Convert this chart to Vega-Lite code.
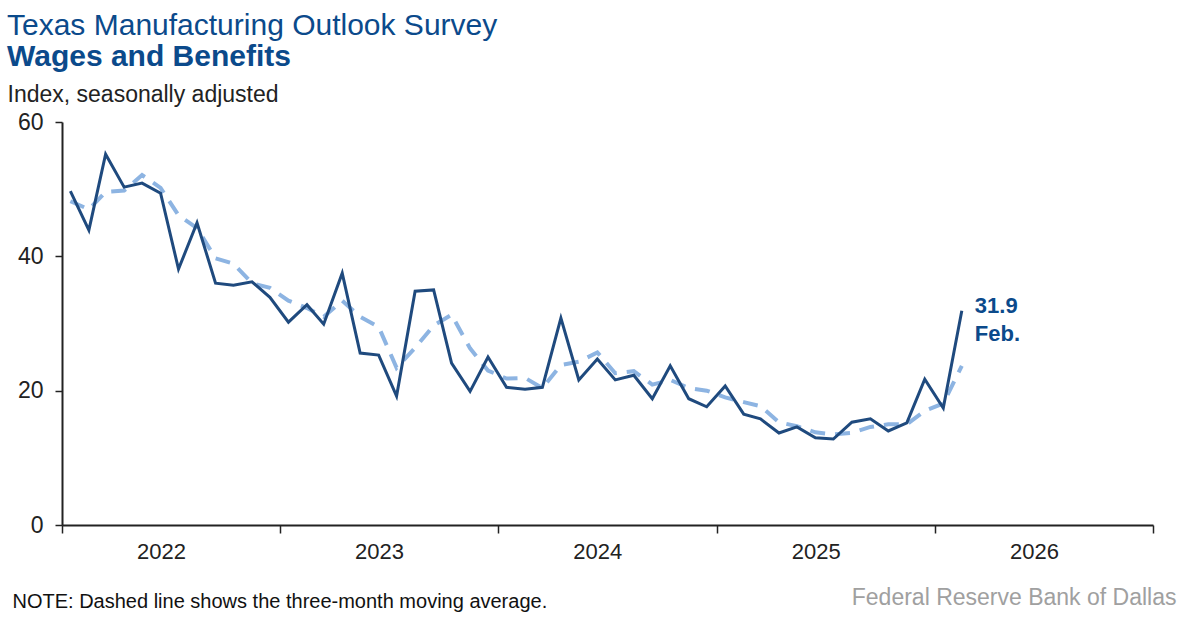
{
  "$schema": "https://vega.github.io/schema/vega-lite/v6.json",
  "autosize": {"type": "none"},
  "width": 1091,
  "height": 403,
  "padding": {"left": 62, "top": 122, "right": 34, "bottom": 92},
  "background": "white",
  "config": {
    "font": "Liberation Sans",
    "view": {"stroke": null},
    "axis": {"grid": false, "labelFont": "Liberation Sans", "titleFont": "Liberation Sans"}
  },
  "title": {
    "text": "Texas Manufacturing Outlook Survey",
    "subtitle": "Wages and Benefits",
    "anchor": "start",
    "frame": "bounds",
    "font": "Liberation Sans",
    "fontSize": 30,
    "fontWeight": "normal",
    "color": "#0b4a8b",
    "subtitleFont": "Liberation Sans",
    "subtitleFontSize": 30,
    "subtitleFontWeight": "bold",
    "subtitleColor": "#0b4a8b",
    "subtitlePadding": 1,
    "offset": 11
  },
  "data": {
    "values": [
      {"date": "2022-01-15", "value": 49.7, "ma": 48.2},
      {"date": "2022-02-15", "value": 43.9, "ma": 47.0},
      {"date": "2022-03-15", "value": 55.2, "ma": 49.6},
      {"date": "2022-04-15", "value": 50.3, "ma": 49.8},
      {"date": "2022-05-15", "value": 50.9, "ma": 52.1},
      {"date": "2022-06-15", "value": 49.4, "ma": 50.2},
      {"date": "2022-07-15", "value": 38.1, "ma": 46.1},
      {"date": "2022-08-15", "value": 45.0, "ma": 44.2},
      {"date": "2022-09-15", "value": 36.0, "ma": 39.7},
      {"date": "2022-10-15", "value": 35.7, "ma": 38.9},
      {"date": "2022-11-15", "value": 36.2, "ma": 36.0},
      {"date": "2022-12-15", "value": 33.9, "ma": 35.3},
      {"date": "2023-01-15", "value": 30.2, "ma": 33.4},
      {"date": "2023-02-15", "value": 32.8, "ma": 32.3},
      {"date": "2023-03-15", "value": 29.9, "ma": 31.0},
      {"date": "2023-04-15", "value": 37.5, "ma": 33.4},
      {"date": "2023-05-15", "value": 25.6, "ma": 31.0},
      {"date": "2023-06-15", "value": 25.3, "ma": 29.5},
      {"date": "2023-07-15", "value": 19.2, "ma": 23.4},
      {"date": "2023-08-15", "value": 34.8, "ma": 26.4},
      {"date": "2023-09-15", "value": 35.0, "ma": 29.7},
      {"date": "2023-10-15", "value": 24.1, "ma": 31.3},
      {"date": "2023-11-15", "value": 19.9, "ma": 26.3},
      {"date": "2023-12-15", "value": 25.0, "ma": 23.0},
      {"date": "2024-01-15", "value": 20.5, "ma": 21.8},
      {"date": "2024-02-15", "value": 20.2, "ma": 21.9},
      {"date": "2024-03-15", "value": 20.5, "ma": 20.4},
      {"date": "2024-04-15", "value": 30.8, "ma": 23.8},
      {"date": "2024-05-15", "value": 21.6, "ma": 24.3},
      {"date": "2024-06-15", "value": 24.7, "ma": 25.7},
      {"date": "2024-07-15", "value": 21.6, "ma": 22.6},
      {"date": "2024-08-15", "value": 22.3, "ma": 22.9},
      {"date": "2024-09-15", "value": 18.8, "ma": 20.9},
      {"date": "2024-10-15", "value": 23.7, "ma": 21.6},
      {"date": "2024-11-15", "value": 18.8, "ma": 20.4},
      {"date": "2024-12-15", "value": 17.6, "ma": 20.0},
      {"date": "2025-01-15", "value": 20.7, "ma": 19.0},
      {"date": "2025-02-15", "value": 16.5, "ma": 18.3},
      {"date": "2025-03-15", "value": 15.8, "ma": 17.7},
      {"date": "2025-04-15", "value": 13.7, "ma": 15.3},
      {"date": "2025-05-15", "value": 14.6, "ma": 14.7},
      {"date": "2025-06-15", "value": 13.0, "ma": 13.8},
      {"date": "2025-07-15", "value": 12.8, "ma": 13.5},
      {"date": "2025-08-15", "value": 15.3, "ma": 13.7},
      {"date": "2025-09-15", "value": 15.8, "ma": 14.6},
      {"date": "2025-10-15", "value": 14.0, "ma": 15.0},
      {"date": "2025-11-15", "value": 15.2, "ma": 15.0},
      {"date": "2025-12-15", "value": 21.7, "ma": 17.0},
      {"date": "2026-01-15", "value": 17.4, "ma": 18.1},
      {"date": "2026-02-15", "value": 31.9, "ma": 23.7, "label": "31.9\nFeb."}
    ]
  },
  "encoding": {
    "x": {
      "field": "date",
      "type": "temporal",
      "scale": {"domain": [{"year": 2022, "month": 1, "date": 1}, {"year": 2027, "month": 1, "date": 1}]},
      "axis": {
        "orient": "bottom",
        "values": [
          {"year": 2022, "month": 1, "date": 1},
          {"year": 2023, "month": 1, "date": 1},
          {"year": 2024, "month": 1, "date": 1},
          {"year": 2025, "month": 1, "date": 1},
          {"year": 2026, "month": 1, "date": 1},
          {"year": 2027, "month": 1, "date": 1}
        ],
        "labelExpr": "year(datum.value) >= 2027 ? '' : timeFormat(datum.value, '%Y')",
        "labelOffset": 99,
        "labelFontSize": 22,
        "labelColor": "#222222",
        "labelPadding": 8,
        "labelFlush": false,
        "labelOverlap": false,
        "domainColor": "#222222",
        "domainWidth": 2,
        "tickColor": "#222222",
        "tickWidth": 1.5,
        "tickSize": 8,
        "title": "NOTE: Dashed line shows the three-month moving average.",
        "titleFontSize": 20,
        "titleFontWeight": "normal",
        "titleColor": "#111111",
        "titleAnchor": "start",
        "titleAlign": "left",
        "titleBaseline": "alphabetic",
        "titleX": -50,
        "titleY": 82
      }
    }
  },
  "layer": [
    {
      "mark": {"type": "line", "color": "#8db4e2", "strokeWidth": 4, "strokeDash": [15, 10], "strokeCap": "butt"},
      "encoding": {
        "y": {
          "field": "ma",
          "type": "quantitative",
          "scale": {"domain": [0, 60]},
          "axis": {
            "orient": "right",
            "labels": false,
            "ticks": false,
            "domain": false,
            "title": "Federal Reserve Bank of Dallas",
            "titleAngle": 0,
            "titleAlign": "right",
            "titleBaseline": "alphabetic",
            "titleX": 23,
            "titleY": 482,
            "titleFontSize": 23,
            "titleFontWeight": "normal",
            "titleColor": "#a0a0a0"
          }
        }
      }
    },
    {
      "mark": {"type": "line", "color": "#1f4a7e", "strokeWidth": 3},
      "encoding": {
        "y": {
          "field": "value",
          "type": "quantitative",
          "scale": {"domain": [0, 60]},
          "axis": {
            "orient": "left",
            "values": [0, 20, 40, 60],
            "labelFontSize": 23,
            "labelColor": "#222222",
            "labelPadding": 12,
            "domainColor": "#222222",
            "domainWidth": 2,
            "tickColor": "#222222",
            "tickWidth": 1.5,
            "tickSize": 7,
            "title": "Index, seasonally adjusted",
            "titleAngle": 0,
            "titleAlign": "left",
            "titleBaseline": "alphabetic",
            "titleX": -55,
            "titleY": -21,
            "titleFontSize": 23,
            "titleFontWeight": "normal",
            "titleColor": "#222222"
          }
        }
      }
    },
    {
      "transform": [{"filter": "datum.label != null"}],
      "mark": {"type": "text", "align": "left", "baseline": "top", "dx": 13, "dy": -15, "fontSize": 22, "fontWeight": "bold", "color": "#0b4a8b", "lineBreak": "\n", "lineHeight": 28},
      "encoding": {
        "y": {"field": "value", "type": "quantitative", "scale": {"domain": [0, 60]}, "axis": null},
        "text": {"field": "label"}
      }
    }
  ],
  "resolve": {"scale": {"y": "independent"}, "axis": {"y": "independent"}}
}
